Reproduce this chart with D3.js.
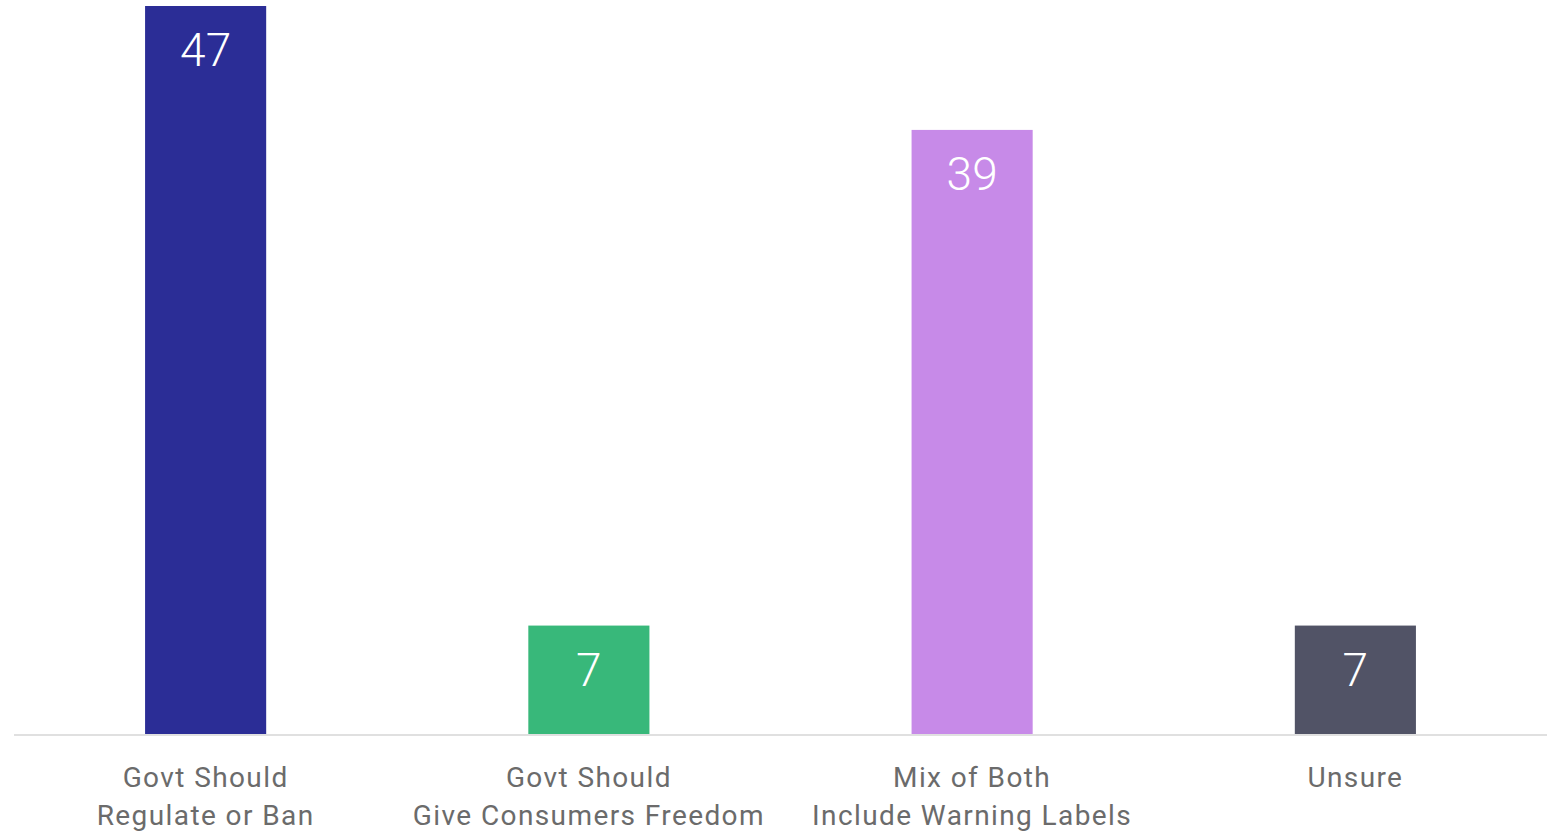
<!DOCTYPE html>
<html><head><meta charset="utf-8">
<script src="https://cdn.jsdelivr.net/npm/d3@7"></script>
<style>html,body{margin:0;padding:0;background:#fff;}svg{display:block;}</style>
</head><body>
<svg id="chart" width="1552" height="833"></svg>
<script>
const categories = ["Govt Should\nRegulate or Ban", "Govt Should\nGive Consumers Freedom", "Mix of Both\nInclude Warning Labels", "Unsure"];
const values = [47, 7, 39, 7];
const colors = ["#2b2d96", "#38b87a", "#c78ae8", "#515366"];

const svg = d3.select("#chart");
const left = 14, right = 1547, baseY = 734, topY = 6;
const x = d3.scaleBand().domain(categories).range([left, right]).paddingInner(0.684).paddingOuter(0.342);
const y = d3.scaleLinear().domain([0, 47]).range([baseY, topY]);
const font = "Roboto, 'Open Sans', sans-serif";

svg.append("line").attr("x1", left).attr("x2", right).attr("y1", baseY + 1).attr("y2", baseY + 1)
  .attr("stroke", "#e0e0e0").attr("stroke-width", 2);

svg.selectAll("rect.bar").data(values).join("rect").attr("class", "bar")
  .attr("x", (d, i) => x(categories[i])).attr("width", x.bandwidth())
  .attr("y", d => y(d)).attr("height", d => baseY - y(d))
  .attr("fill", (d, i) => colors[i]);

svg.selectAll("text.val").data(values).join("text").attr("class", "val")
  .attr("x", (d, i) => x(categories[i]) + x.bandwidth() / 2)
  .attr("y", d => y(d) + 60)
  .attr("text-anchor", "middle").attr("fill", "#fff")
  .attr("font-family", font).attr("font-weight", 300).attr("font-size", 46)
  .text(d => d);

const lab = svg.selectAll("text.cat").data(categories).join("text").attr("class", "cat")
  .attr("x", d => x(d) + x.bandwidth() / 2).attr("y", 787)
  .attr("text-anchor", "middle").attr("fill", "#6b6b6b")
  .attr("font-family", font).attr("font-weight", 400).attr("font-size", 28)
  .attr("letter-spacing", 1.4);
lab.each(function(d) {
  const lines = d.split("\n");
  const t = d3.select(this);
  lines.forEach((l, j) => t.append("tspan").attr("x", x(d) + x.bandwidth() / 2).attr("dy", j ? 38 : 0).text(l));
});
</script>
</body></html>
